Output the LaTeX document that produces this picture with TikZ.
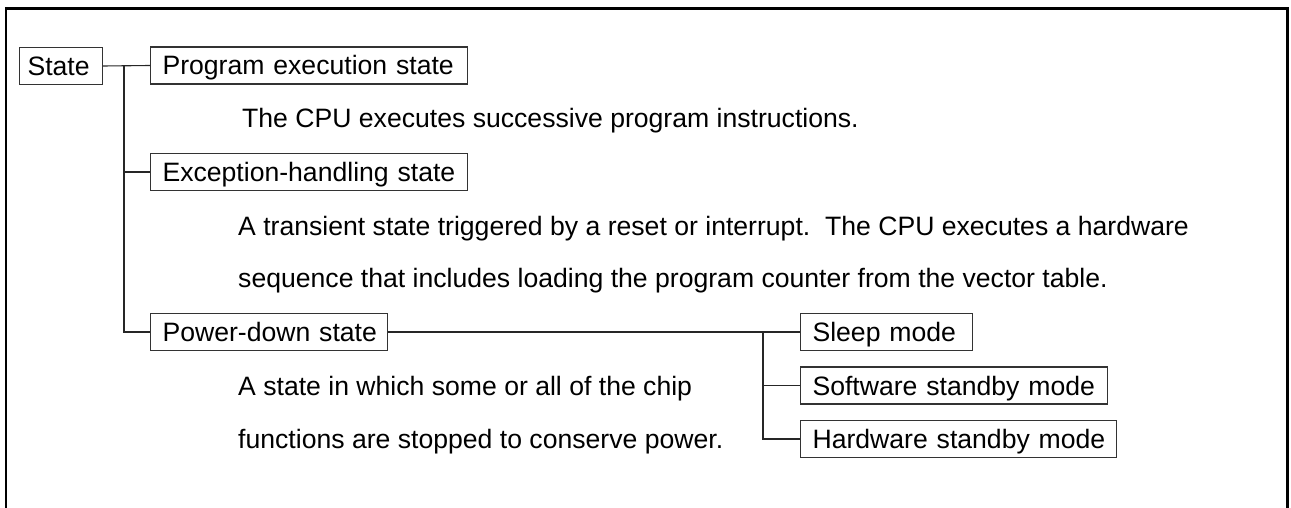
\documentclass[tikz,border=0pt]{standalone}
\usepackage{fontspec}
\setmainfont{Liberation Sans}
\begin{document}
\begin{tikzpicture}[x=1pt,y=-1pt,
  font=\fontsize{26.6}{30}\selectfont,
  box/.style={draw=black!80, line width=1.1pt, anchor=west, minimum height=37pt,
    text height=19pt, text depth=0pt, inner ysep=0pt, inner xsep=12pt, align=left},
  conn/.style={draw=black!85, line width=1.1pt},
  desc/.style={anchor=base west, inner sep=0pt}]
\useasboundingbox (0,0) rectangle (1291,508);
\draw[line width=2.6pt] (6,508) -- (6,8.5) -- (1287.5,8.5) -- (1287.5,508);
% boxes
\node[box, inner xsep=8pt, text width=67pt] (state) at (19,66) {\mbox{State}};
\node[box, text width=293pt] (prog) at (150,65.5) {\mbox{Program execution state}};
\node[box, text width=293pt] (exc) at (150,172) {\mbox{Exception-handling state}};
\node[box, text width=213pt] (pd) at (150,332) {\mbox{Power-down state}};
\node[box, text width=148pt] (sleep) at (800,332) {\mbox{Sleep mode}};
\node[box, text width=283pt] (soft) at (800,385.5) {\mbox{Software standby mode}};
\node[box, text width=292pt] (hard) at (800,439) {\mbox{Hardware standby mode}};
% descriptions
\node[desc] (d1) at (242,128) {The CPU executes successive program instructions.};
\node[desc] (d2) at (238,235) {A transient state triggered by a reset or interrupt.\ \ The CPU executes a hardware};
\node[desc] (d3) at (238,287) {sequence that includes loading the program counter from the vector table.};
\node[desc] (d4) at (238,395) {A state in which some or all of the chip};
\node[desc] (d5) at (238,448) {functions are stopped to conserve power.};
% trunk coordinates
\coordinate (t1) at (124,0);
\coordinate (t2) at (763,0);
% connectors
\draw[conn] (state.east) -- (prog.west);
\draw[conn] (t1 |- prog.west) -- (t1 |- pd.west) -- (pd.west);
\draw[conn] (t1 |- exc.west) -- (exc.west);
\draw[conn] (pd.east) -- (sleep.west);
\draw[conn] (t2 |- sleep.west) -- (t2 |- hard.west) -- (hard.west);
\draw[conn] (t2 |- soft.west) -- (soft.west);
\end{tikzpicture}
\end{document}
